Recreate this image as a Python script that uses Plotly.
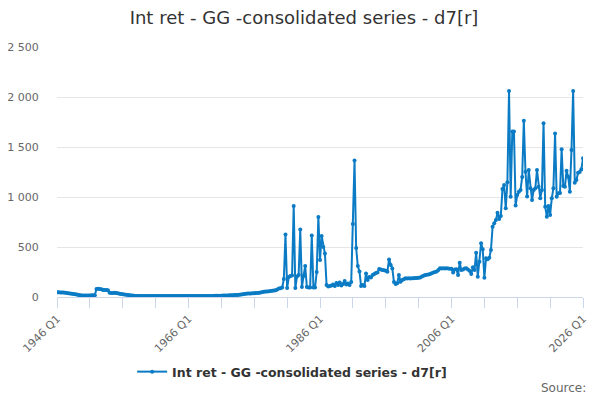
import plotly.graph_objects as go

series_name = "Int ret - GG -consolidated series - d7[r]"
start_year = 1946

# quarterly values, 1946 Q1 onwards
v_1946_1951 = [47, 47, 46, 45, 44, 42, 40, 38, 36, 33, 30, 27, 24, 20, 17, 16, 15, 15, 15, 16, 16, 17, 17, 18]
v_1952_1957 = [80, 82, 81, 78, 70, 70, 69, 68, 42, 40, 40, 42, 40, 38, 33, 30, 27, 24, 22, 20, 18, 16, 14, 12]
v_1958_1969 = [11, 10, 10, 10, 9, 9, 9, 9, 9, 9, 9, 9,
               9, 9, 9, 9, 9, 9, 9, 9, 9, 9, 9, 9, 10, 10, 10, 10, 10, 10, 10, 10,
               10, 10, 10, 10, 10, 10, 10, 10, 11, 11, 11, 11, 11, 11, 11, 11]
v_1970_1979 = [12, 12, 12, 13, 13, 14, 14, 15, 16, 17, 18, 18, 19, 20, 21, 22,
               24, 27, 30, 33, 34, 35, 36, 37, 38, 39, 41, 43, 46, 50, 52, 54, 56, 58,
               60, 63, 66, 68, 75, 85]
v_1980_1989 = [88, 95, 180, 625, 90, 200, 210, 215, 910, 90, 205, 220, 675, 100, 210, 310,
               100, 95, 95, 615, 95, 95, 250, 800, 370, 610, 500, 435, 120, 105, 110,
               115, 125, 110, 140, 120, 145, 115, 130, 160]
v_1990_1999 = [125, 135, 120, 150, 730, 1365, 490, 310, 255, 110, 120, 110, 235, 170, 200, 195,
               220, 230, 240, 245, 280, 275, 270, 268, 263, 253, 375, 320, 285, 150, 130, 137,
               220, 153, 170, 177, 187, 185, 187, 185]
v_2000_2009 = [187, 188, 190, 190, 192, 195, 205, 212, 220, 222, 225, 230, 238, 245, 250, 255,
               270, 287, 285, 287, 285, 287, 285, 283, 283, 245, 275, 277, 220, 343, 270, 275,
               285, 287, 275, 263, 230, 297, 270, 443]
v_2010_2019 = [203, 353, 537, 477, 193, 387, 377, 393, 470, 703, 737, 770, 843, 780, 810, 1080,
               1120, 887, 1147, 2060, 1003, 1655, 1655, 915, 1020, 1053, 1070, 1200, 1763, 1253,
               1005, 1270, 1087, 970, 1070, 1087, 1270, 1103, 987, 1070]
v_2020_2026 = [1737, 903, 803, 910, 820, 987, 1087, 1635, 1003, 1037, 1040, 1477, 1110, 1103,
               1263, 1203, 1053, 1470, 2060, 1143, 1170, 1243, 1250, 1277, 1387]

values = (v_1946_1951 + v_1952_1957 + v_1958_1969 + v_1970_1979 + v_1980_1989 +
          v_1990_1999 + v_2000_2009 + v_2010_2019 + v_2020_2026)

x_pos = [start_year + i / 4 for i in range(len(values))]
q_labels = [f"{start_year + i // 4} Q{i % 4 + 1}" for i in range(len(values))]

tick_years = list(range(1946, 2027, 5))
labelled_years = [1946, 1966, 1986, 2006, 2026]
tick_text = [f"{y} Q1" if y in labelled_years else "" for y in tick_years]

color = "#0a7bc4"
axis_col = "#ccd6eb"

fig = go.Figure()
fig.add_trace(go.Scatter(
    x=x_pos, y=values, mode="lines+markers", name=series_name,
    text=q_labels, hovertemplate="%{text}: %{y}<extra></extra>",
    line=dict(color=color, width=2),
    marker=dict(color=color, size=4),
))

fig.update_layout(
    width=592, height=392,
    margin=dict(l=49, r=17, t=39, b=103),
    paper_bgcolor="white", plot_bgcolor="white",
    separators=". ",
    font=dict(family="DejaVu Sans", color="#666666", size=11),
    title=dict(text=series_name, x=0.5, xanchor="center", y=1 - 10 / 392, yanchor="middle",
               font=dict(size=18, color="#333333")),
    showlegend=True,
    legend=dict(orientation="h", x=0.447, xanchor="center", y=-0.3, yanchor="middle",
                font=dict(size=12.5, color="#333333", weight="bold")),
    xaxis=dict(range=[1946, 2026], tickmode="array", tickvals=tick_years, ticktext=tick_text,
               tickangle=-45, ticks="outside", ticklen=10, tickcolor=axis_col, automargin=False,
               showline=True, linecolor=axis_col, linewidth=1, showgrid=False, zeroline=False,
               tickfont=dict(size=11, color="#666666")),
    yaxis=dict(range=[0, 2500], dtick=500, tickformat=",", showgrid=True, gridcolor="#e6e6e6",
               zeroline=False, showline=False, ticks="outside", ticklen=15, automargin=False,
               tickcolor="rgba(0,0,0,0)",
               tickfont=dict(size=11, color="#666666")),
    annotations=[dict(text="Source:", xref="paper", yref="paper", x=1.0095, y=-0.364,
                      xanchor="right", yanchor="middle", showarrow=False,
                      font=dict(size=12, color="#666666"))],
)

fig.write_html("out.html")
